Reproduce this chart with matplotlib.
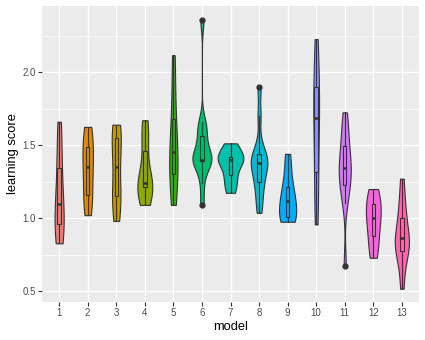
import numpy as np
import matplotlib
matplotlib.use("Agg")
import matplotlib.pyplot as plt
from matplotlib import cbook, mlab

plt.rcParams["font.family"] = ["Liberation Sans", "DejaVu Sans"]

# ── data: learning scores per model ───────────────────────────────────────────
models = ["1", "2", "3", "4", "5", "6", "7", "8", "9", "10", "11", "12", "13"]

m1 = [0.827, 0.88, 0.96, 1.0, 1.096, 1.2, 1.34, 1.5, 1.66]
m2 = [1.02, 1.10, 1.16, 1.27, 1.35, 1.42, 1.49, 1.56, 1.625]
m3 = [0.98, 1.08, 1.15, 1.20, 1.35, 1.48, 1.55, 1.60, 1.64]
m4 = [1.09, 1.15, 1.21, 1.22, 1.24, 1.30, 1.46, 1.58, 1.67]
m5 = [1.09, 1.20, 1.30, 1.38, 1.45, 1.55, 1.68, 1.88, 2.116]
m6 = [1.089, 1.24, 1.36, 1.39, 1.40, 1.40, 1.40, 1.45, 1.50, 1.565, 1.62, 1.66, 2.356]
m7 = [1.173, 1.24, 1.295, 1.36, 1.397, 1.41, 1.42, 1.47, 1.512]
m8 = [1.036, 1.12, 1.20, 1.249, 1.30, 1.35, 1.375, 1.39, 1.41, 1.436, 1.50, 1.70, 1.895]
m9 = [0.975, 0.99, 1.01, 1.06, 1.12, 1.16, 1.21, 1.32, 1.44]
m10 = [0.957, 1.15, 1.313, 1.55, 1.687, 1.78, 1.895, 2.02, 2.226]
m11 = [0.673, 1.10, 1.18, 1.226, 1.28, 1.32, 1.34, 1.38, 1.44, 1.491, 1.56, 1.64, 1.724]
m12 = [0.728, 0.80, 0.879, 0.95, 1.002, 1.05, 1.096, 1.15, 1.199]
m13 = [0.516, 0.65, 0.73, 0.776, 0.80, 0.84, 0.861, 0.88, 0.95, 1.0, 1.06, 1.15, 1.27]

scores = [m1, m2, m3, m4, m5, m6, m7, m8, m9, m10, m11, m12, m13]

y_ticks = [0.5, 1.0, 1.5, 2.0]
y_tick_labels = ["0.5", "1.0", "1.5", "2.0"]

# ggplot hue palette, 13 levels
colors = ["#F8766D", "#E18A00", "#BE9C00", "#8CAB00", "#24B700", "#00BE70", "#00C1AB",
          "#00BBDA", "#00ACFC", "#8B93FF", "#D575FE", "#F962DD", "#FF65AC"]

EDGE = "#333333"


def nrd0(kde):
    # R's bw.nrd0, expressed as a factor of the sample sd
    x = kde.dataset[0]
    sd = x.std(ddof=1)
    iqr = np.subtract(*np.percentile(x, [75, 25]))
    lo = min(sd, iqr / 1.34) if iqr > 0 else sd
    return 0.9 * lo * len(x) ** -0.2 / sd


def kde_method(X, coords):
    return mlab.GaussianKDE(X, nrd0).evaluate(coords)


positions = np.arange(1, len(models) + 1)
vpstats = cbook.violin_stats([np.asarray(s) for s in scores], kde_method, points=256)

# scale = "area": widths relative to the largest density over all groups
peak = max(st["vals"].max() for st in vpstats)
widths = [0.9 * st["vals"].max() / peak for st in vpstats]

fig = plt.figure(figsize=(4.25, 3.4), dpi=100)
ax = fig.add_axes([42 / 425, 38 / 340, 377 / 425, 296 / 340])
ax.set_facecolor("#EBEBEB")

parts = ax.violin(vpstats, positions=positions, widths=widths,
                  showmeans=False, showextrema=False, showmedians=False)
for body, col in zip(parts["bodies"], colors):
    body.set_facecolor(col)
    body.set_edgecolor(EDGE)
    body.set_linewidth(0.8)
    body.set_alpha(1)
    body.set_zorder(2)

bp = ax.boxplot(scores, positions=positions, widths=0.12, patch_artist=True,
                manage_ticks=False, zorder=3,
                boxprops=dict(edgecolor=EDGE, linewidth=0.8),
                whiskerprops=dict(color=EDGE, linewidth=0.8),
                capprops=dict(linewidth=0),
                medianprops=dict(color=EDGE, linewidth=1.8, solid_capstyle="butt"),
                flierprops=dict(marker="o", markerfacecolor=EDGE, markeredgecolor=EDGE,
                                markersize=3.5))
for box, col in zip(bp["boxes"], colors):
    box.set_facecolor(col)

ax.set_xlim(0.4, len(models) + 0.6)
ax.set_ylim(0.425, 2.453)
ax.set_xticks(positions)
ax.set_xticklabels(models)
ax.set_yticks(y_ticks)
ax.set_yticklabels(y_tick_labels)
ax.set_yticks([0.75, 1.25, 1.75, 2.25], minor=True)

ax.grid(which="major", color="white", linewidth=1.0)
ax.grid(which="minor", axis="y", color="white", linewidth=0.5)
ax.set_axisbelow(True)
for sp in ax.spines.values():
    sp.set_visible(False)

ax.tick_params(axis="both", which="major", length=2.7, width=0.8, color="#333333",
               labelsize=7, labelcolor="#4D4D4D", pad=1.5)
ax.tick_params(axis="y", which="minor", length=0)

ax.set_xlabel("model", fontsize=9.3, labelpad=2)
ax.set_ylabel("learning score", fontsize=9.3, labelpad=3)

fig.savefig("out.png", dpi=100)
